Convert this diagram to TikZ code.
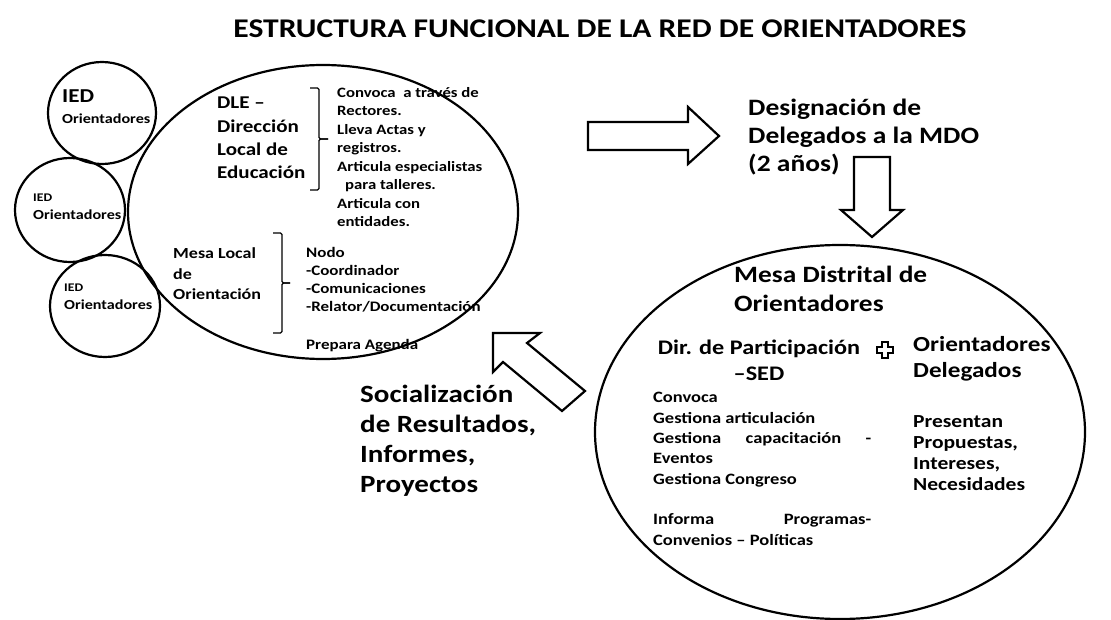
\documentclass[tikz,border=0pt]{standalone}
\usepackage{fontspec}
\setmainfont{Carlito}[FakeStretch=1.17]
\usetikzlibrary{shapes.geometric}
\begin{document}
\begin{tikzpicture}[x=1pt,y=-1pt,
  blob/.style={draw, ellipse, line width=2.2pt, inner sep=0},
  brace/.style={line width=1.1pt, rounded corners=1.5pt},
  blockarrow/.style={draw, line width=2.2pt, line join=miter},
  txt/.style={inner sep=0, anchor=base west, align=left},
  lst/.style={font=\fontsize{14.3}{18.55}\selectfont\bfseries}]
\useasboundingbox (0,0) rectangle (1111,620);

\node[inner sep=0, anchor=base, font=\fontsize{27}{30}\selectfont\bfseries] (title) at (600,38)
  {ESTRUCTURA FUNCIONAL DE LA RED DE ORIENTADORES};

% local level
\node[blob, minimum width=390, minimum height=294] (dle) at (323,212) {};
\node[blob, minimum width=108, minimum height=102] (ied1) at (102,113) {};
\node[blob, minimum width=110, minimum height=104] (ied2) at (70,210) {};
\node[blob, minimum width=110, minimum height=102] (ied3) at (105,306) {};

\node[txt, font=\fontsize{19.7}{24}\selectfont\bfseries] (ied1a) at (62,103) {IED};
\node[txt, font=\fontsize{13.8}{16}\selectfont\bfseries] (ied1b) at (62,124) {Orientadores};
\node[txt, font=\fontsize{11.7}{15}\selectfont\bfseries] (ied2a) at (33,202) {IED};
\node[txt, font=\fontsize{13.8}{16}\selectfont\bfseries] (ied2b) at (33,220) {Orientadores};
\node[txt, font=\fontsize{11.7}{15}\selectfont\bfseries] (ied3a) at (64,292) {IED};
\node[txt, font=\fontsize{13.8}{16}\selectfont\bfseries] (ied3b) at (64,310) {Orientadores};

\node[txt, font=\fontsize{18}{23.4}\selectfont\bfseries] (dletxt) at (217,179)
  {DLE --\\Dirección\\Local de\\Educación};
\draw[brace] (310,88) -- (319,88) -- (319,139) -- (328,139);
\draw[brace] (328,139) -- (319,139) -- (319,190) -- (310,190);
\node[txt, lst] (dlelist) at (337,227)
  {Convoca\ \ a través de\\Rectores.\\Lleva Actas y\\registros.\\Articula especialistas\\
   \hspace*{8pt}para talleres.\\Articula con\\entidades.};

\node[txt, font=\fontsize{15.4}{20.5}\selectfont\bfseries] (mlotxt) at (173,300)
  {Mesa Local\\de\\Orientación};
\draw[brace] (273,233) -- (282,233) -- (282,283) -- (290,283);
\draw[brace] (290,283) -- (282,283) -- (282,333) -- (273,333);
\node[txt, font=\fontsize{14.5}{18.33}\selectfont\bfseries] (mlolist) at (306,312)
  {Nodo\\-Coordinador\\-Comunicaciones\\-Relator/Documentación};
\node[txt, font=\fontsize{14.5}{18.33}\selectfont\bfseries] (agenda) at (306,349) {Prepara Agenda};

% arrows between levels
\draw[blockarrow] (588,122) -- (688,122) -- (688,107) -- (719,136) -- (688,164)
  -- (688,150) -- (588,150) -- cycle;
\node[txt, font=\fontsize{23.5}{28}\selectfont\bfseries] (desig) at (748,172)
  {Designación de\\Delegados a la MDO\\(2 años)};
\draw[blockarrow] (854,157) -- (890,157) -- (890,210) -- (903,210) -- (872,237)
  -- (841,210) -- (854,210) -- cycle;
\draw[blockarrow] (493,333) -- (540,333) -- (527,343) -- (585,391) -- (562,411)
  -- (503,362) -- (493,372) -- cycle;
\node[txt, font=\fontsize{24.8}{29.7}\selectfont\bfseries] (social) at (360,492)
  {Socialización\\de Resultados,\\Informes,\\Proyectos};

% district level
\node[blob, minimum width=490, minimum height=374] (mdo) at (840,432) {};
\node[txt, font=\fontsize{23.4}{29}\selectfont\bfseries] (mdotxt) at (734,312)
  {Mesa Distrital de\\Orientadores};
\node[inner sep=0, anchor=base, align=center, font=\fontsize{20.7}{26}\selectfont\bfseries] (dirpart) at (759,380)
  {Dir. de Participación\\--SED};
\draw[line width=1.4pt] (882,342) -- (888,342) -- (888,347) -- (893,347) -- (893,353)
  -- (888,353) -- (888,358) -- (882,358) -- (882,353) -- (877,353) -- (877,347)
  -- (882,347) -- cycle;
\node[txt, font=\fontsize{21.5}{25}\selectfont\bfseries] (deleg) at (913,377)
  {Orientadores\\Delegados};
\node[txt, font=\fontsize{15.8}{20.3}\selectfont\bfseries] (dirlist) at (653,545)
  {Convoca\\Gestiona articulación\\\makebox[218pt][s]{Gestiona capacitación -}\\Eventos\\
   Gestiona Congreso\\[20.3pt]\makebox[218pt][s]{Informa Programas-}\\Convenios -- Políticas};
\node[txt, font=\fontsize{18.4}{21}\selectfont\bfseries] (delist) at (913,490)
  {Presentan\\Propuestas,\\Intereses,\\Necesidades};
\end{tikzpicture}
\end{document}
